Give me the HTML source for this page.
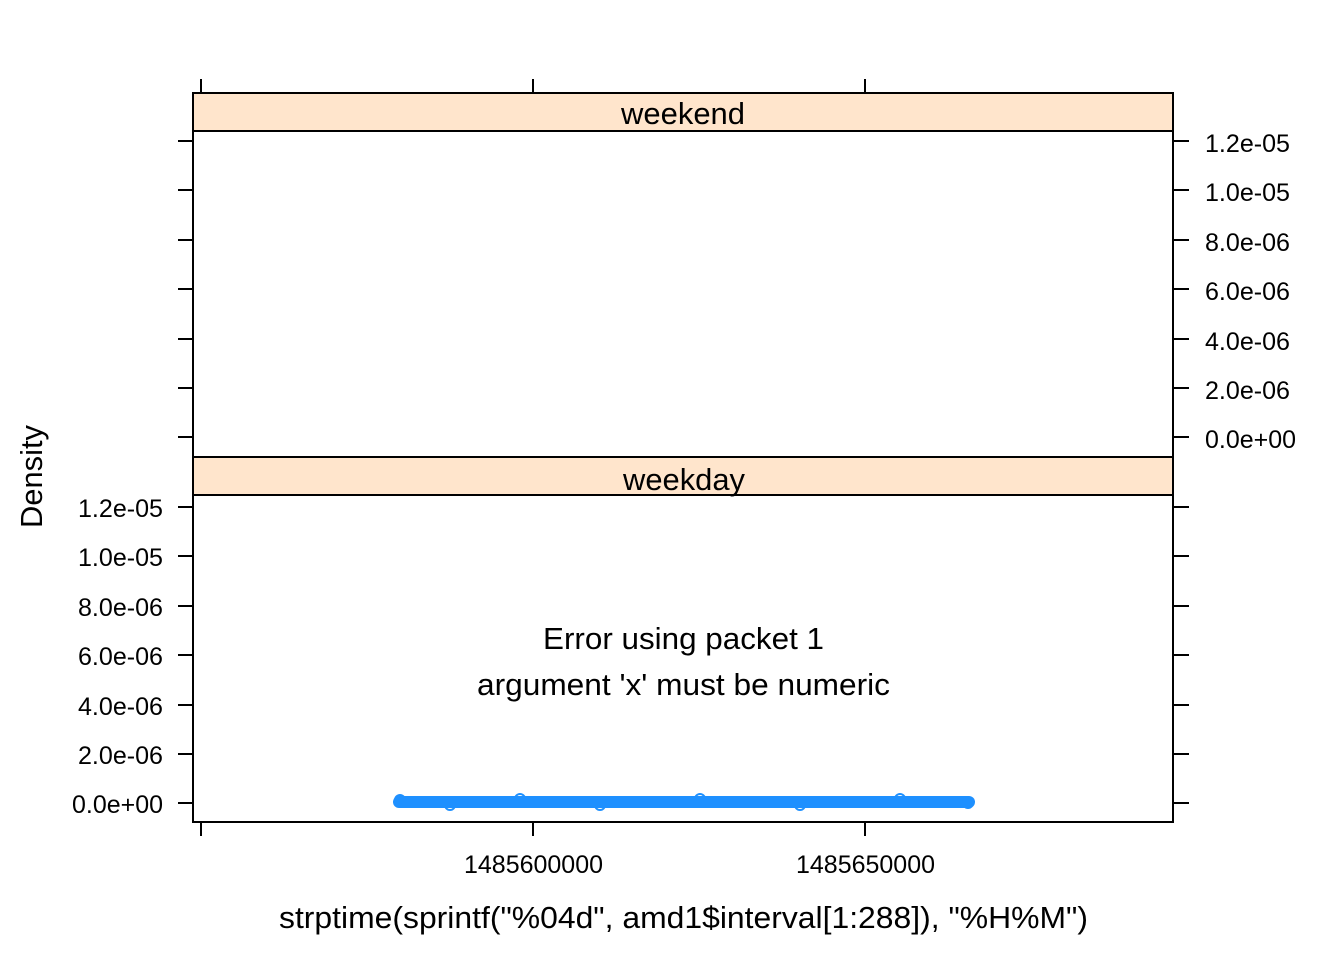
<!DOCTYPE html>
<html><head><meta charset="utf-8"><style>
html,body{margin:0;padding:0;background:#fff;}
svg{display:block;}
text{font-family:"Liberation Sans",Arial,sans-serif;fill:#000;}
</style></head><body>
<svg width="1344" height="960" viewBox="0 0 1344 960" xmlns="http://www.w3.org/2000/svg">
<rect width="1344" height="960" fill="#fff"/>
<g stroke="#000" stroke-width="2" fill="none">
  <line x1="201" y1="79" x2="201" y2="93"/>
  <line x1="533" y1="79" x2="533" y2="93"/>
  <line x1="865" y1="79" x2="865" y2="93"/>
  <line x1="201" y1="822" x2="201" y2="836"/>
  <line x1="533" y1="822" x2="533" y2="836"/>
  <line x1="865" y1="822" x2="865" y2="836"/>
  <line x1="178" y1="141" x2="193" y2="141"/>
  <line x1="178" y1="190" x2="193" y2="190"/>
  <line x1="178" y1="240" x2="193" y2="240"/>
  <line x1="178" y1="289" x2="193" y2="289"/>
  <line x1="178" y1="339" x2="193" y2="339"/>
  <line x1="178" y1="388" x2="193" y2="388"/>
  <line x1="178" y1="437" x2="193" y2="437"/>
  <line x1="1173" y1="141" x2="1189" y2="141"/>
  <line x1="1173" y1="190" x2="1189" y2="190"/>
  <line x1="1173" y1="240" x2="1189" y2="240"/>
  <line x1="1173" y1="289" x2="1189" y2="289"/>
  <line x1="1173" y1="339" x2="1189" y2="339"/>
  <line x1="1173" y1="388" x2="1189" y2="388"/>
  <line x1="1173" y1="437" x2="1189" y2="437"/>
  <line x1="178" y1="507" x2="193" y2="507"/>
  <line x1="178" y1="556" x2="193" y2="556"/>
  <line x1="178" y1="606" x2="193" y2="606"/>
  <line x1="178" y1="655" x2="193" y2="655"/>
  <line x1="178" y1="705" x2="193" y2="705"/>
  <line x1="178" y1="754" x2="193" y2="754"/>
  <line x1="178" y1="803" x2="193" y2="803"/>
  <line x1="1173" y1="507" x2="1189" y2="507"/>
  <line x1="1173" y1="556" x2="1189" y2="556"/>
  <line x1="1173" y1="606" x2="1189" y2="606"/>
  <line x1="1173" y1="655" x2="1189" y2="655"/>
  <line x1="1173" y1="705" x2="1189" y2="705"/>
  <line x1="1173" y1="754" x2="1189" y2="754"/>
  <line x1="1173" y1="803" x2="1189" y2="803"/>
</g>
<rect x="193" y="93" width="980" height="38" fill="#ffe5cc" stroke="#000" stroke-width="2"/>
<rect x="193" y="457" width="980" height="38" fill="#ffe5cc" stroke="#000" stroke-width="2"/>
<rect x="193" y="131" width="980" height="326" fill="none" stroke="#000" stroke-width="2"/>
<rect x="193" y="495" width="980" height="327" fill="none" stroke="#000" stroke-width="2"/>
<text x="621" y="124" font-size="31" textLength="124" lengthAdjust="spacingAndGlyphs">weekend</text>
<text x="623" y="490" font-size="31" textLength="122" lengthAdjust="spacingAndGlyphs">weekday</text>
<g font-size="25">
<text x="1205" y="152" textLength="85" lengthAdjust="spacingAndGlyphs">1.2e-05</text>
<text x="1205" y="201" textLength="85" lengthAdjust="spacingAndGlyphs">1.0e-05</text>
<text x="1205" y="251" textLength="85" lengthAdjust="spacingAndGlyphs">8.0e-06</text>
<text x="1205" y="300" textLength="85" lengthAdjust="spacingAndGlyphs">6.0e-06</text>
<text x="1205" y="350" textLength="85" lengthAdjust="spacingAndGlyphs">4.0e-06</text>
<text x="1205" y="399" textLength="85" lengthAdjust="spacingAndGlyphs">2.0e-06</text>
<text x="1205" y="448" textLength="91" lengthAdjust="spacingAndGlyphs">0.0e+00</text>
</g>
<g font-size="25">
<text x="78" y="517" textLength="85" lengthAdjust="spacingAndGlyphs">1.2e-05</text>
<text x="78" y="566" textLength="85" lengthAdjust="spacingAndGlyphs">1.0e-05</text>
<text x="78" y="616" textLength="85" lengthAdjust="spacingAndGlyphs">8.0e-06</text>
<text x="78" y="665" textLength="85" lengthAdjust="spacingAndGlyphs">6.0e-06</text>
<text x="78" y="715" textLength="85" lengthAdjust="spacingAndGlyphs">4.0e-06</text>
<text x="78" y="764" textLength="85" lengthAdjust="spacingAndGlyphs">2.0e-06</text>
<text x="72" y="813" textLength="91" lengthAdjust="spacingAndGlyphs">0.0e+00</text>
</g>
<text x="464" y="873" font-size="25" textLength="139" lengthAdjust="spacingAndGlyphs">1485600000</text>
<text x="796" y="873" font-size="25" textLength="139" lengthAdjust="spacingAndGlyphs">1485650000</text>
<text x="279" y="928" font-size="31" textLength="809" lengthAdjust="spacingAndGlyphs">strptime(sprintf("%04d", amd1$interval[1:288]), "%H%M")</text>
<text transform="translate(42,528) rotate(-90)" font-size="31" textLength="103" lengthAdjust="spacingAndGlyphs">Density</text>
<text x="543" y="649" font-size="31" textLength="281" lengthAdjust="spacingAndGlyphs">Error using packet 1</text>
<text x="477" y="695" font-size="31" textLength="413" lengthAdjust="spacingAndGlyphs">argument 'x' must be numeric</text>
<line x1="399" y1="802" x2="969" y2="802" stroke="#1e90ff" stroke-width="12" stroke-linecap="round"/>
<g fill="none" stroke="#1e90ff" stroke-width="2">
<circle cx="400" cy="800" r="5"/><circle cx="450" cy="805" r="5"/><circle cx="520" cy="799" r="5"/><circle cx="600" cy="805" r="5"/><circle cx="700" cy="799" r="5"/><circle cx="800" cy="805" r="5"/><circle cx="900" cy="799" r="5"/><circle cx="968" cy="803" r="5"/>
</g>
</svg>
</body></html>
